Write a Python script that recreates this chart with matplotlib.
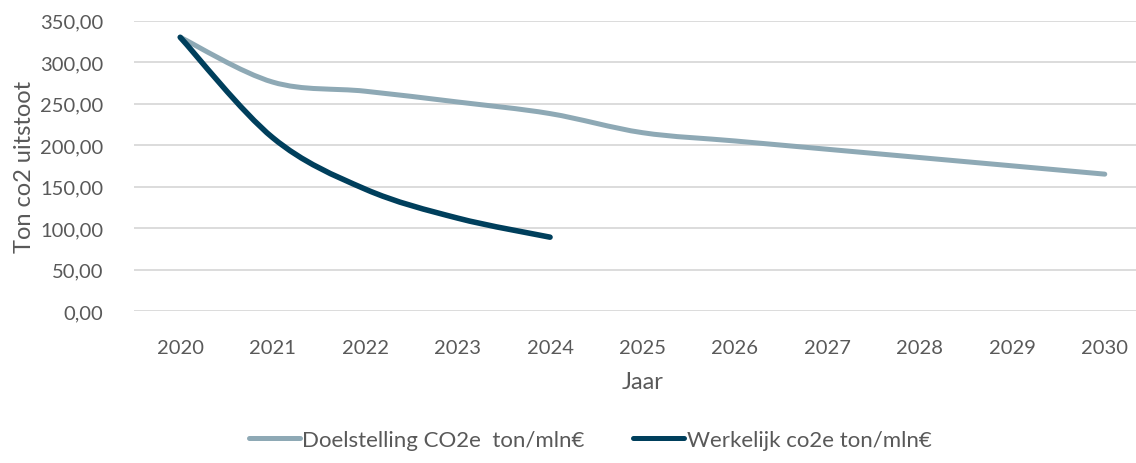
import numpy as np
import matplotlib
matplotlib.use("Agg")
import matplotlib.pyplot as plt
from matplotlib.path import Path
from matplotlib.patches import PathPatch
from matplotlib.lines import Line2D

plt.rcParams['font.family'] = ['Lato', 'DejaVu Sans']

# data
jaren = ['2020', '2021', '2022', '2023', '2024', '2025', '2026', '2027', '2028', '2029', '2030']
doelstelling = [330, 276, 265, 252, 238, 215, 205, 195, 185, 175, 165]
werkelijk = [330, 209, 147, 112, 89]

kleur_doel = '#8EA9B5'
kleur_werk = '#003F5C'
tekst = '#595959'


# smooth line like excel (bezier through the points)
def smooth_path(y):
    x = np.arange(len(y), dtype=float)
    y = np.asarray(y, dtype=float)
    pts = np.column_stack([x, y])
    verts = [pts[0]]
    codes = [Path.MOVETO]
    n = len(pts)
    for i in range(n - 1):
        p0 = pts[max(i - 1, 0)]
        p1 = pts[i]
        p2 = pts[i + 1]
        p3 = pts[min(i + 2, n - 1)]
        c1 = p1 + (p2 - p0) / 6.0
        c2 = p2 - (p3 - p1) / 6.0
        verts += [c1, c2, p2]
        codes += [Path.CURVE4] * 3
    return Path(verts, codes)


fig = plt.figure(figsize=(11.36, 4.64), dpi=100)
ax = fig.add_axes([134 / 1136, 152 / 464, (1151 - 134) / 1136, (312 - 21.7) / 464])

for serie, kleur, lw in [(doelstelling, kleur_doel, 3.6), (werkelijk, kleur_werk, 4.0)]:
    patch = PathPatch(smooth_path(serie), facecolor='none', edgecolor=kleur,
                      lw=lw, capstyle='round', joinstyle='round', zorder=3)
    ax.add_patch(patch)

ax.set_xlim(-0.5, len(jaren) - 0.5)
ax.set_ylim(0, 350)
ax.set_xticks(range(len(jaren)))
ax.set_xticklabels(jaren)
yticks = np.arange(0, 351, 50)
ax.set_yticks(yticks)
ax.set_yticklabels([f"{v:.2f}".replace('.', ',') for v in yticks])
ax.tick_params(axis='both', length=0, labelsize=14.5, colors=tekst)
ax.tick_params(axis='x', pad=20)
ax.tick_params(axis='y', pad=22)
ax.grid(axis='y', color='#D9D9D9', lw=1.3)
ax.set_axisbelow(True)
for s in ax.spines.values():
    s.set_visible(False)

ax.set_xlabel('Jaar', fontsize=17, color=tekst, labelpad=11)
ax.set_ylabel('Ton co2 uitstoot', fontsize=17, color=tekst, labelpad=4)

handles = [Line2D([], [], color=kleur_doel, lw=3.6, solid_capstyle='round'),
           Line2D([], [], color=kleur_werk, lw=3.6, solid_capstyle='round')]
fig.legend(handles, ['Doelstelling CO2e  ton/mln€', 'Werkelijk co2e ton/mln€'],
           loc='center', bbox_to_anchor=(590 / 1136, 1 - 441 / 464), ncol=2,
           frameon=False, fontsize=16, labelcolor=tekst, handlelength=2.3,
           handletextpad=0.1, columnspacing=2.2)

fig.savefig('out.png', dpi=100)
